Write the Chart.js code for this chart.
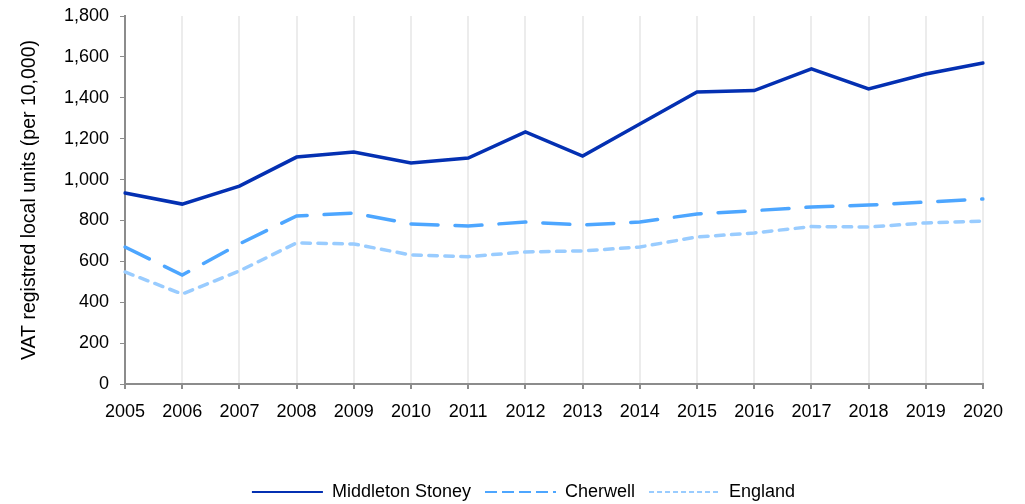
<!DOCTYPE html>
<html>
<head>
<meta charset="utf-8">
<script src="https://cdn.jsdelivr.net/npm/chart.js@4"></script>
<style>
  html, body { margin: 0; padding: 0; background: #fff; }
  #wrap { width: 1025px; height: 504px; }
</style>
</head>
<body>
<div id="wrap"><canvas id="grafico" width="1025" height="504"></canvas></div>
<script>
// ====== DATA ======
const years = ['2005', '2006', '2007', '2008', '2009', '2010', '2011', '2012',
  '2013', '2014', '2015', '2016', '2017', '2018', '2019', '2020'];
const middletonStoney = [934, 880, 968, 1110, 1135, 1081, 1105, 1233, 1115, 1272, 1428, 1435, 1541, 1443, 1516, 1570];
const cherwell = [670, 533, 685, 822, 836, 783, 773, 792, 778, 792, 832, 848, 866, 875, 890, 905];
const england = [548, 440, 553, 690, 685, 631, 623, 646, 651, 670, 719, 739, 770, 768, 788, 797];

// ====== STYLE ======
const font = { family: '"Liberation Sans", Arial, sans-serif', size: 18 };
const titleFont = { family: '"Liberation Sans", Arial, sans-serif', size: 19.5 };
const axisGray = '#8c8c8c';
const legendDash = [[], [12, 5], [5, 3]];

function serie(label, data, color, dash) {
  return {
    label,
    data,
    borderColor: color,
    backgroundColor: color,
    borderWidth: 3.5,
    borderDash: dash,
    borderCapStyle: 'round',
    borderJoinStyle: 'miter',
    pointRadius: 0,
    tension: 0,
    fill: false,
  };
}

// legend sits a bit right of centre and lower in the original
const legendShift = {
  id: 'legendShift',
  afterLayout: c => {
    c.legend.left += 32;
    c.legend.right += 32;
    c.legend.top += 7;
    c.legend.bottom += 7;
  },
};

// ====== CHART ======
const ctx = document.getElementById('grafico').getContext('2d');
const chart = new Chart(ctx, {
  type: 'line',
  data: {
    labels: years,
    datasets: [
      serie('Middleton Stoney', middletonStoney, '#0430b2', []),
      serie('Cherwell', cherwell, '#4da6ff', [27, 17]),
      serie('England', england, '#99ccff', [8.5, 7.5]),
    ],
  },
  options: {
    responsive: false,
    animation: false,
    layout: { padding: { left: 0, right: 42, top: 16, bottom: 0 } },
    plugins: {
      legend: {
        position: 'bottom',
        labels: {
          color: '#000',
          font,
          usePointStyle: true,
          pointStyle: 'line',
          pointStyleWidth: 71,
          boxHeight: 2,
          padding: 14,
          generateLabels: c =>
            Chart.defaults.plugins.legend.labels.generateLabels(c).map((item, i) => ({
              ...item,
              lineDash: legendDash[i],
              lineWidth: 2,
              lineCap: 'butt',
            })),
        },
      },
      tooltip: { enabled: false },
    },
    scales: {
      x: {
        offset: false,
        grid: {
          color: '#ececec',
          lineWidth: 2,
          tickColor: axisGray,
          tickLength: 5,
        },
        border: { color: axisGray, width: 2 },
        ticks: { color: '#000', font, padding: 12, maxRotation: 0, autoSkip: false },
        afterFit: scale => { scale.height = 78; },
      },
      y: {
        min: 0,
        max: 1800,
        grid: {
          drawOnChartArea: false,
          color: axisGray,
          tickLength: 5,
        },
        border: { color: axisGray, width: 2 },
        ticks: {
          color: '#000',
          // small lineHeight so the top label does not push the plot down
          font: { ...font, lineHeight: 0.5 },
          stepSize: 200,
          padding: 11,
          callback: v => v.toLocaleString('en-GB'),
        },
        title: {
          display: true,
          text: 'VAT registred local units (per 10,000)',
          color: '#000',
          font: titleFont,
          padding: { top: 18, bottom: 0 },
        },
        afterFit: scale => { scale.width = 125; },
      },
    },
  },
  plugins: [legendShift],
});
</script>
</body>
</html>
